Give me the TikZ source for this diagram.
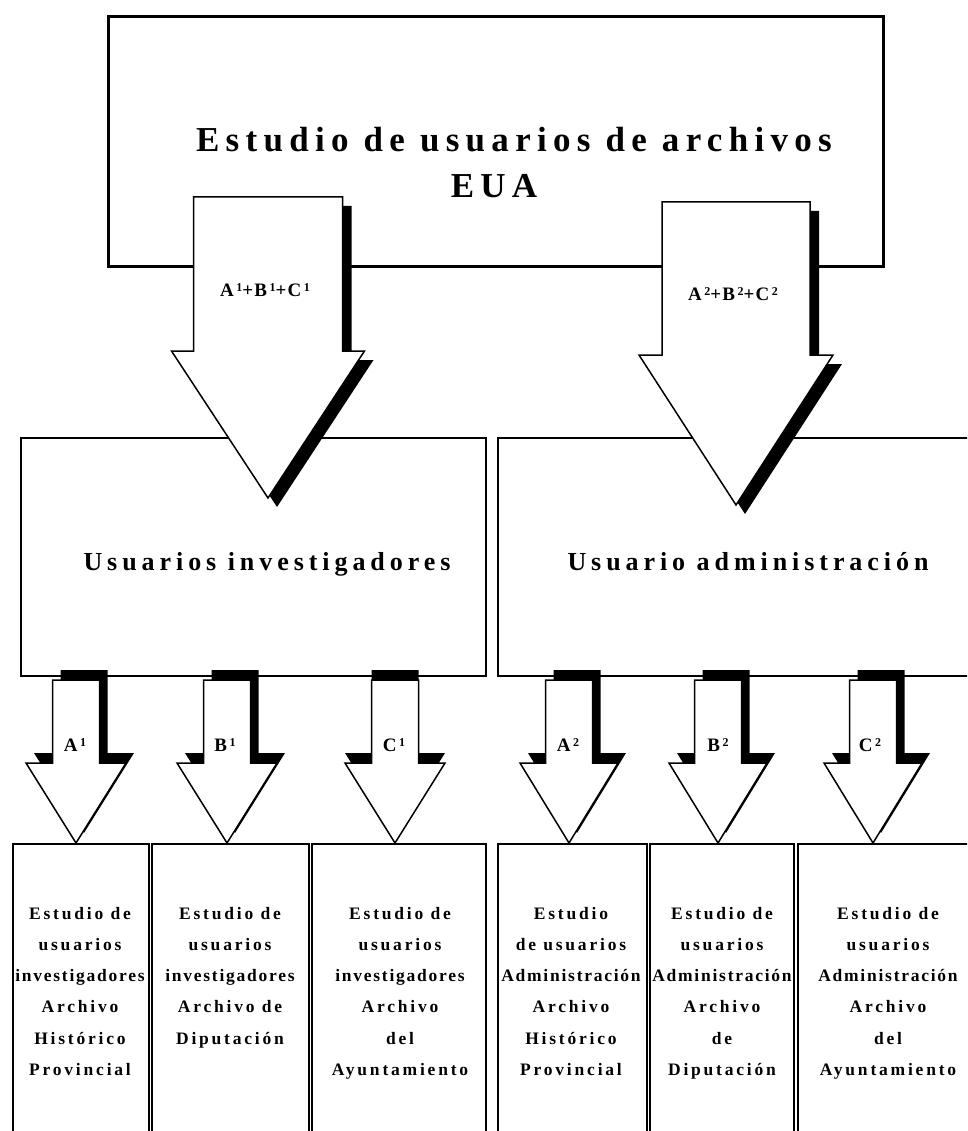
\documentclass[tikz,border=0pt]{standalone}
\usepackage{fontspec}
\setmainfont{Liberation Serif}
\newcommand{\up}[1]{\hspace{2.5pt}\raisebox{5pt}{\fontsize{12}{12}\selectfont #1}}
\newcommand{\tight}[1]{{\addfontfeature{LetterSpace=10}#1}}
% block arrow pointing down: tip, half shaft, half head, head length, total length, shadow shift
\newcommand{\blockdown}[6]{%
  \begin{scope}[shift={(#1)}]
    \fill[black,shift={#6}] (0,0) -- (-#3,-#4) -- (-#2,-#4) -- (-#2,-#5)
         -- (#2,-#5) -- (#2,-#4) -- (#3,-#4) -- cycle;
    \filldraw[fill=white,draw=black,line width=1.5pt] (0,0) -- (-#3,-#4) -- (-#2,-#4) -- (-#2,-#5)
         -- (#2,-#5) -- (#2,-#4) -- (#3,-#4) -- cycle;
  \end{scope}}

\begin{document}
\begin{tikzpicture}[x=1pt,y=-1pt,line join=miter]
  \tikzstyle{box}=[draw=black,fill=none,inner sep=0pt,anchor=north west,line width=1.5pt]
  \tikzstyle{title}=[inner sep=0pt,anchor=base,
                     font=\fontsize{35}{40}\selectfont\bfseries\addfontfeature{LetterSpace=18}]
  \tikzstyle{group}=[inner sep=0pt,anchor=base,
                     font=\fontsize{26}{30}\selectfont\bfseries\addfontfeature{LetterSpace=19}]
  \tikzstyle{lab}=[inner sep=0pt,anchor=base,
                   font=\fontsize{19}{22}\selectfont\bfseries\addfontfeature{LetterSpace=6}]
  \tikzstyle{cell}=[inner sep=0pt,anchor=north,align=center,
                    font=\fontsize{17.5}{31.2}\selectfont\bfseries\addfontfeature{LetterSpace=16}]

  \useasboundingbox (0,0) rectangle (967,1131);
  \clip (0,0) rectangle (967,1131);

  % boxes
  \node[box,line width=3pt,minimum width=775pt,minimum height=250pt] (eua) at (107,15) {};
  \node[box,minimum width=465pt,minimum height=238pt] (inv) at (20,437) {};
  \node[box,minimum width=475pt,minimum height=238pt] (adm) at (497,437) {};
  \node[box,minimum width=136pt,minimum height=300pt] (bA1) at (12,843) {};
  \node[box,minimum width=157pt,minimum height=300pt] (bB1) at (151,843) {};
  \node[box,minimum width=174pt,minimum height=300pt] (bC1) at (311,843) {};
  \node[box,minimum width=149pt,minimum height=300pt] (bA2) at (497,843) {};
  \node[box,minimum width=144pt,minimum height=300pt] (bB2) at (649,843) {};
  \node[box,minimum width=182pt,minimum height=300pt] (bC2) at (797,843) {};

  % texts of the boxes
  \node[title] (eua1) at (514,152) {Estudio de usuarios de archivos};
  \node[title] (eua2) at (494,198) {EUA};
  \node[group] (invt) at (267,570) {Usuarios investigadores};
  \node[group] (admt) at (748,570) {Usuario administración};

  \node[cell] (tA1) at (80,907)  {Estudio de\\usuarios\\\tight{investigadores}\\Archivo\\Histórico\\Provincial};
  \node[cell] (tB1) at (230,907) {Estudio de\\usuarios\\\tight{investigadores}\\Archivo de\\Diputación};
  \node[cell] (tC1) at (400,907) {Estudio de\\usuarios\\\tight{investigadores}\\Archivo\\del\\Ayuntamiento};
  \node[cell] (tA2) at (571,907) {Estudio\\de usuarios\\\tight{Administración}\\Archivo\\Histórico\\Provincial};
  \node[cell] (tB2) at (722,907) {Estudio de\\usuarios\\\tight{Administración}\\Archivo\\de\\Diputación};
  \node[cell] (tC2) at (888,907) {Estudio de\\usuarios\\\tight{Administración}\\Archivo\\del\\Ayuntamiento};

  % arrow tips
  \coordinate (pinv) at (268,498);
  \coordinate (padm) at (736,505);
  \coordinate (pA1) at (76,843);
  \coordinate (pB1) at (227,843);
  \coordinate (pC1) at (395,843);
  \coordinate (pA2) at (569,843);
  \coordinate (pB2) at (718,843);
  \coordinate (pC2) at (873,843);

  % big arrows
  \blockdown{pinv}{74.5}{96.5}{147}{301}{(9,9)}
  \blockdown{padm}{74}{97}{150}{303}{(9,9)}
  \node[lab] (linv) at (265,296) {A\up{1}+B\up{1}+C\up{1}};
  \node[lab] (ladm) at (733,300) {A\up{2}+B\up{2}+C\up{2}};

  % small arrows
  \blockdown{pA1}{23.5}{50}{80}{163}{(8,-10)}
  \blockdown{pB1}{23.5}{50}{80}{163}{(8,-10)}
  \blockdown{pC1}{23.5}{50}{80}{163}{(0,-10)}
  \blockdown{pA2}{23.5}{49}{80}{163}{(8,-10)}
  \blockdown{pB2}{23.5}{49}{80}{163}{(8,-10)}
  \blockdown{pC2}{23.5}{49}{80}{163}{(8,-10)}
  \node[lab] (lA1) at (75,751)  {A\up{1}};
  \node[lab] (lB1) at (225,751) {B\up{1}};
  \node[lab] (lC1) at (394,751) {C\up{1}};
  \node[lab] (lA2) at (568,751) {A\up{2}};
  \node[lab] (lB2) at (718,751) {B\up{2}};
  \node[lab] (lC2) at (870,751) {C\up{2}};
\end{tikzpicture}
\end{document}
